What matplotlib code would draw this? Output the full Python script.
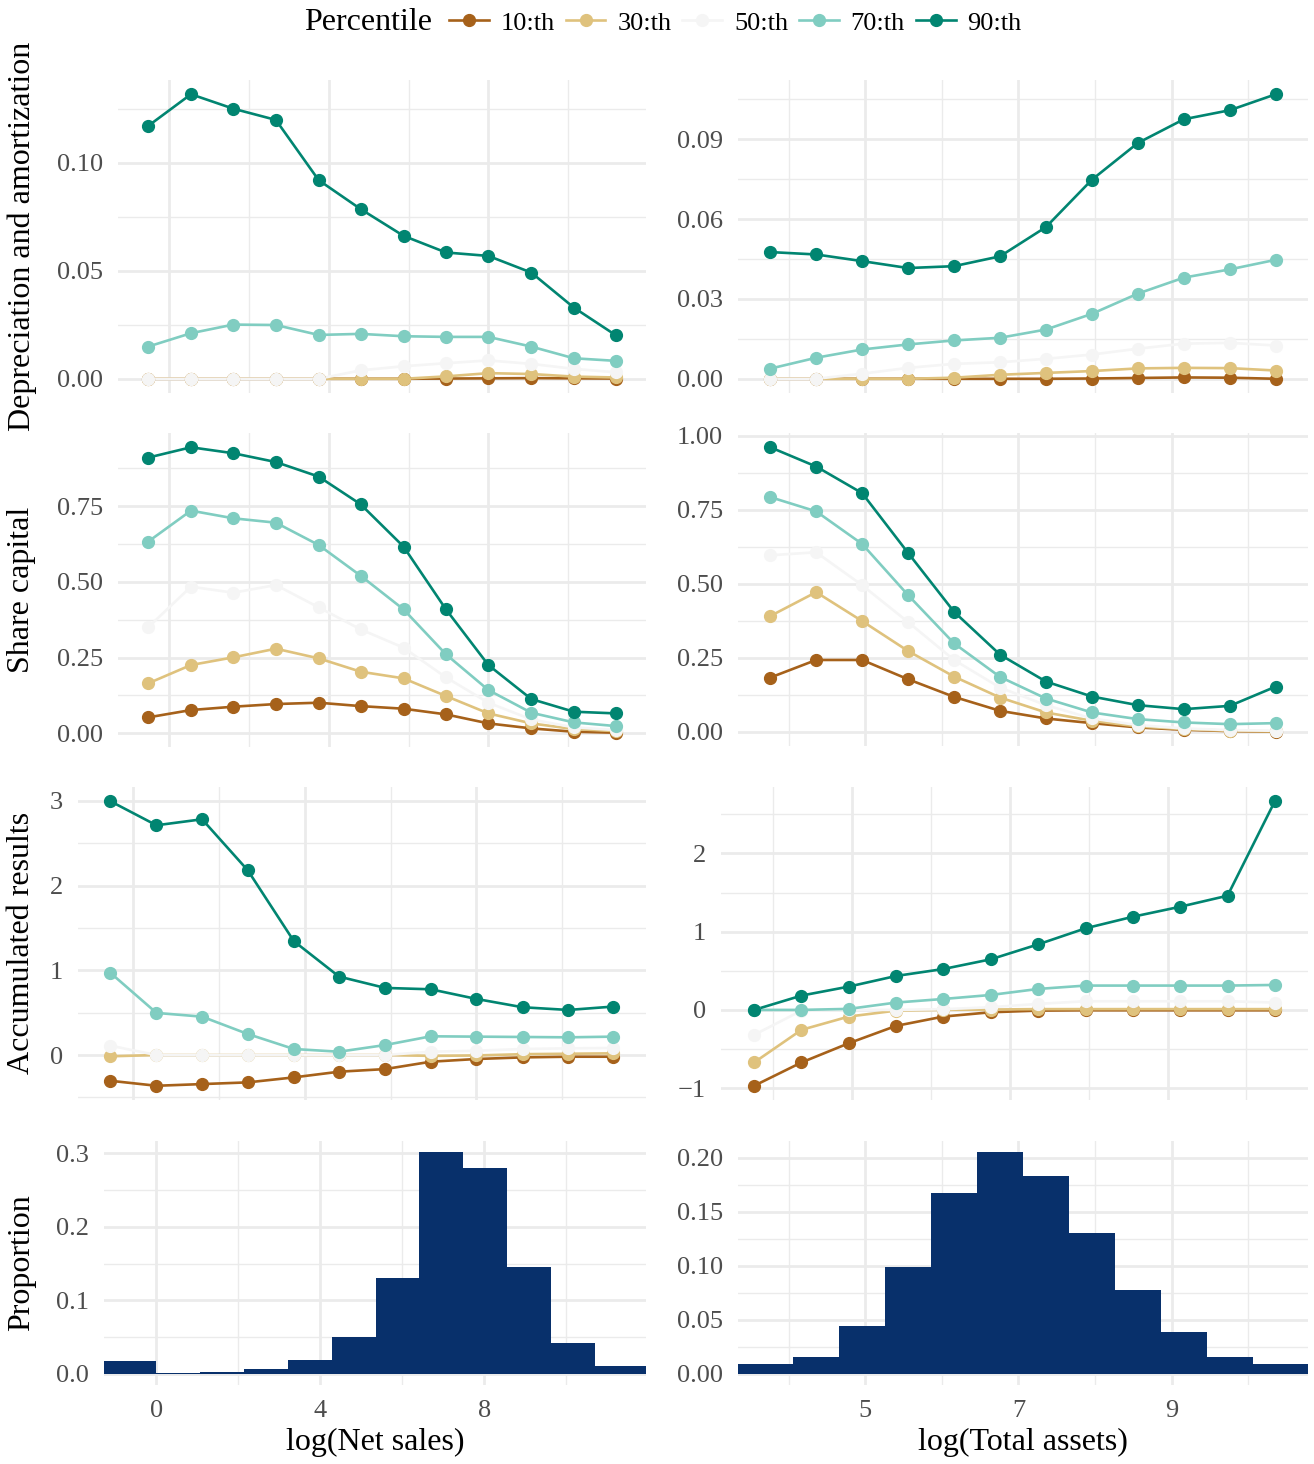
import matplotlib.pyplot as plt
import numpy as np
from matplotlib.lines import Line2D
from matplotlib.ticker import AutoMinorLocator

plt.rcParams['font.family'] = ['Liberation Serif', 'DejaVu Serif']

# legend / colours
percentiles = ['10:th', '30:th', '50:th', '70:th', '90:th']
colors = ['#A6611A', '#DFC27D', '#F5F5F5', '#80CDC1', '#018571']
hist_color = '#08306B'

# bin centres
ns_x = [-0.525, 0.548, 1.61, 2.675, 3.748, 4.80, 5.875, 6.938, 8.0, 9.075, 10.14, 11.19]
ta_x = [3.76, 4.36, 4.96, 5.56, 6.16, 6.76, 7.36, 7.96, 8.56, 9.16, 9.76, 10.36]

# Depreciation and amortization
dep_ns = [
    [0, 0, 0, 0, 0, 0, 0, 0.0001, 0.0002, 0.0003, 0.0002, 0.0001],
    [0, 0, 0, 0, 0, 0, 0, 0.0011, 0.0026, 0.0022, 0.0010, 0.0006],
    [0, 0, 0, 0, 0, 0.0039, 0.0058, 0.0072, 0.0085, 0.0069, 0.0046, 0.0030],
    [0.0149, 0.0211, 0.0251, 0.0249, 0.0203, 0.0208, 0.0197, 0.0194, 0.0194, 0.0149, 0.0095, 0.0083],
    [0.1171, 0.1318, 0.1251, 0.1199, 0.0920, 0.0786, 0.0662, 0.0585, 0.0569, 0.0492, 0.0330, 0.0202],
]
dep_ta = [
    [0, 0, 0, 0, 0, 0, 0, 0.0001, 0.0003, 0.0005, 0.0004, 0.0000],
    [0, 0, 0, 0, 0.0004, 0.0015, 0.0022, 0.0029, 0.0039, 0.0041, 0.0040, 0.0031],
    [0, 0, 0.0019, 0.0041, 0.0056, 0.0062, 0.0075, 0.0091, 0.0113, 0.0132, 0.0135, 0.0125],
    [0.0038, 0.0079, 0.0110, 0.0129, 0.0144, 0.0154, 0.0185, 0.0244, 0.0320, 0.0380, 0.0411, 0.0447],
    [0.0476, 0.0467, 0.0442, 0.0416, 0.0423, 0.0460, 0.0570, 0.0748, 0.0886, 0.0975, 0.1009, 0.1069],
]

# Share capital
cap_ns = [
    [0.0528, 0.0770, 0.0880, 0.0968, 0.1012, 0.0900, 0.0814, 0.0627, 0.0330, 0.0165, 0.0055, 0.0022],
    [0.165, 0.2255, 0.2508, 0.2794, 0.2475, 0.2035, 0.1815, 0.1232, 0.066, 0.033, 0.0143, 0.0077],
    [0.3498, 0.4839, 0.464, 0.4894, 0.4157, 0.343, 0.2827, 0.1848, 0.1012, 0.0462, 0.0198, 0.011],
    [0.6324, 0.7347, 0.7094, 0.695, 0.6214, 0.520, 0.409, 0.2607, 0.143, 0.0682, 0.0363, 0.0242],
    [0.9096, 0.9437, 0.924, 0.895, 0.847, 0.7556, 0.616, 0.409, 0.2255, 0.1133, 0.0715, 0.066],
]
cap_ta = [
    [0.1831, 0.2427, 0.2427, 0.1775, 0.118, 0.0708, 0.0449, 0.0292, 0.0146, 0.0067, 0.0022, 0.0],
    [0.391, 0.4719, 0.3742, 0.273, 0.1865, 0.1157, 0.0652, 0.0371, 0.018, 0.009, 0.0034, 0.0011],
    [0.5966, 0.6067, 0.4955, 0.3708, 0.2427, 0.1494, 0.0899, 0.0449, 0.0225, 0.0112, 0.0056, 0.0034],
    [0.7933, 0.745, 0.6348, 0.4618, 0.2989, 0.1854, 0.1124, 0.0652, 0.0427, 0.0315, 0.0258, 0.0292],
    [0.9618, 0.8966, 0.8067, 0.6045, 0.4056, 0.2607, 0.1697, 0.1191, 0.0899, 0.0764, 0.0876, 0.1528],
]

# Accumulated results
acc_ns = [
    [-0.304, -0.363, -0.343, -0.323, -0.264, -0.197, -0.166, -0.079, -0.047, -0.028, -0.02, -0.02],
    [-0.015, 0, 0, 0, 0, 0, 0, -0.01, -0.005, 0.01, 0.015, 0.02],
    [0.110, 0, 0, 0, 0, 0, 0, 0.039, 0.051, 0.071, 0.079, 0.083],
    [0.970, 0.497, 0.453, 0.248, 0.071, 0.039, 0.118, 0.221, 0.217, 0.213, 0.209, 0.217],
    [2.996, 2.712, 2.783, 2.18, 1.344, 0.926, 0.792, 0.776, 0.662, 0.564, 0.532, 0.572],
]
acc_ta = [
    [-0.970, -0.672, -0.426, -0.204, -0.085, -0.030, -0.009, -0.005, -0.005, -0.005, -0.005, -0.005],
    [-0.672, -0.255, -0.085, -0.009, 0, 0.005, 0.01, 0.01, 0.01, 0.01, 0.01, 0.01],
    [-0.319, -0.009, 0, 0, 0.009, 0.034, 0.077, 0.111, 0.111, 0.111, 0.111, 0.094],
    [0, 0, 0.013, 0.094, 0.140, 0.191, 0.268, 0.311, 0.311, 0.311, 0.311, 0.319],
    [0, 0.183, 0.298, 0.434, 0.523, 0.647, 0.838, 1.043, 1.191, 1.319, 1.460, 2.668],
]

# histograms
ns_edges = [-1.30, 0.0, 1.07, 2.14, 3.21, 4.28, 5.35, 6.42, 7.49, 8.56, 9.63, 10.70, 11.97]
ns_prop = [0.018, 0.0018, 0.0027, 0.0072, 0.0194, 0.0505, 0.1302, 0.3018, 0.2797, 0.145, 0.0419, 0.0108]
ta_edges = [3.34, 4.057, 4.657, 5.257, 5.857, 6.457, 7.057, 7.657, 8.257, 8.857, 9.457, 10.057, 10.78]
ta_prop = [0.0092, 0.016, 0.0446, 0.0985, 0.1677, 0.2052, 0.1831, 0.1305, 0.0778, 0.0391, 0.016, 0.0092]

# tick labels
yt_dep_ns = ['0.00', '0.05', '0.10']
yt_dep_ta = ['0.00', '0.03', '0.06', '0.09']
yt_cap_ns = ['0.00', '0.25', '0.50', '0.75']
yt_cap_ta = ['0.00', '0.25', '0.50', '0.75', '1.00']
yt_acc_ns = ['0', '1', '2', '3']
yt_acc_ta = ['\u22121', '0', '1', '2']
yt_hist_ns = ['0.0', '0.1', '0.2', '0.3']
yt_hist_ta = ['0.00', '0.05', '0.10', '0.15', '0.20']
xt_ns = ['0', '4', '8']
xt_ta = ['5', '7', '9']

W, H = 1314, 1464
fig = plt.figure(figsize=(W / 100, H / 100), dpi=100)


def add_panel(x0, y0, x1, y1):
    ax = fig.add_axes([x0 / W, 1 - y1 / H, (x1 - x0) / W, (y1 - y0) / H])
    for s in ax.spines.values():
        s.set_visible(False)
    ax.set_axisbelow(True)
    ax.tick_params(which='both', length=0, pad=11, labelsize=19, labelcolor='#4D4D4D')
    return ax


def style(ax, xlim, xlabels, ylabels, show_x):
    ax.set_xlim(xlim)
    ax.set_xticks([float(t) for t in xlabels], xlabels)
    ax.set_yticks([float(t.replace('\u2212', '-')) for t in ylabels], ylabels)
    ax.xaxis.set_minor_locator(AutoMinorLocator(2))
    ax.yaxis.set_minor_locator(AutoMinorLocator(2))
    ax.grid(which='major', color='#EBEBEB', lw=2.0)
    ax.grid(which='minor', color='#EBEBEB', lw=1.0)
    if not show_x:
        ax.tick_params(labelbottom=False)


def line_panel(ax, xs, series):
    for vals, c in zip(series, colors):
        ax.plot(xs, vals, color=c, lw=1.9, zorder=2)
    for vals, c in zip(series, colors):
        ax.plot(xs, vals, 'o', color=c, ms=8.5, zorder=3)


xlim_ns = (-1.28, 11.95)
xlim_ta = (3.34, 10.78)

# row 1
ax = add_panel(118, 80, 646, 393)
line_panel(ax, ns_x, dep_ns)
style(ax, xlim_ns, xt_ns, yt_dep_ns, False)
ax = add_panel(738, 80, 1308, 393)
line_panel(ax, ta_x, dep_ta)
style(ax, xlim_ta, xt_ta, yt_dep_ta, False)

# row 2
ax = add_panel(118, 433, 646, 747)
line_panel(ax, ns_x, cap_ns)
style(ax, xlim_ns, xt_ns, yt_cap_ns, False)
ax = add_panel(738, 433, 1308, 746)
line_panel(ax, ta_x, cap_ta)
style(ax, xlim_ta, xt_ta, yt_cap_ta, False)

# row 3
ax = add_panel(78, 787, 646, 1100)
line_panel(ax, ns_x, acc_ns)
style(ax, xlim_ns, xt_ns, yt_acc_ns, False)
ax = add_panel(721, 787, 1308, 1100)
line_panel(ax, ta_x, acc_ta)
style(ax, xlim_ta, xt_ta, yt_acc_ta, False)

# row 4: histograms
ax = add_panel(104, 1141, 646, 1385)
ax.stairs(ns_prop, ns_edges, fill=True, color=hist_color, zorder=2)
ax.set_ylim(-0.05 * max(ns_prop), max(ns_prop) * 1.05)
style(ax, xlim_ns, xt_ns, yt_hist_ns, True)
ax.set_xlabel('log(Net sales)', fontsize=23, labelpad=4)
ax = add_panel(738, 1141, 1308, 1385)
ax.stairs(ta_prop, ta_edges, fill=True, color=hist_color, zorder=2)
ax.set_ylim(-0.05 * max(ta_prop), max(ta_prop) * 1.05)
style(ax, xlim_ta, xt_ta, yt_hist_ta, True)
ax.set_xlabel('log(Total assets)', fontsize=23, labelpad=4)

# y titles
for label, yc in [('Depreciation and amortization', 236), ('Share capital', 590),
                  ('Accumulated results', 943), ('Proportion', 1263)]:
    fig.text(22 / W, 1 - yc / H, label, rotation=90, ha='center', va='center', fontsize=23)

# legend
handles = [Line2D([0], [0], color=c, lw=1.9, marker='o', ms=8.5) for c in colors]
fig.text(432 / W, 1 - 23 / H, 'Percentile', ha='right', va='center', fontsize=23)
fig.legend(handles, percentiles, loc='center left', bbox_to_anchor=(449 / W, 1 - 23 / H),
           ncol=5, frameon=False, fontsize=19, handlelength=1.5, handletextpad=0.45,
           columnspacing=0.42, borderpad=0, borderaxespad=0)

fig.savefig('out.png', dpi=100)
